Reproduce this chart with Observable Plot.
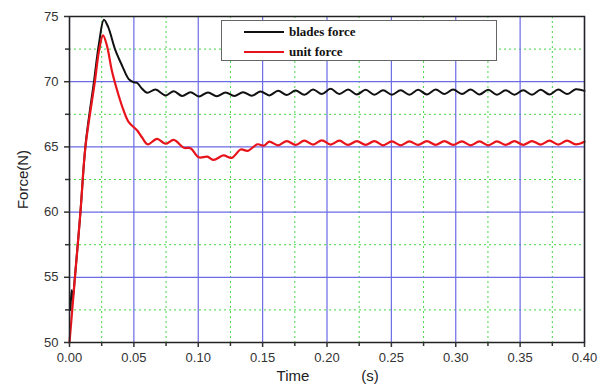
<!DOCTYPE html>
<html>
<head>
<meta charset="utf-8">
<script src="https://cdn.jsdelivr.net/npm/d3@7"></script>
<script src="https://cdn.jsdelivr.net/npm/@observablehq/plot@0.6"></script>
<style>
  html, body { margin: 0; padding: 0; background: #fff; }
  #wrap { position: relative; width: 602px; height: 387px; font-family: "Liberation Sans", Arial, sans-serif; }
  #legend { position: absolute; left: 221px; top: 20px; width: 274px; height: 39px; border: 1.5px solid #666; background: #fff; box-sizing: content-box; }
  .li { position: absolute; left: 22px; width: 40px; height: 2px; }
  .lt { position: absolute; left: 67px; font: bold 13px "Liberation Serif", "Times New Roman", serif; color: #111; line-height: 13px; }
</style>
</head>
<body>
<div id="wrap">
  <div id="chart"></div>
  <div id="legend">
    <div class="li" style="top:10px;background:#111"></div>
    <div class="lt" style="top:4px">blades force</div>
    <div class="li" style="top:30px;background:#e8141c"></div>
    <div class="lt" style="top:24px">unit force</div>
  </div>
</div>
<script>
// ---- data ----
const bladesT = [0.0008, 0.0016, 0.0024, 0.004, 0.0085, 0.0125, 0.019, 0.023, 0.0267, 0.030, 0.0357, 0.041, 0.046, 0.050, 0.0526, 0.056, 0.0603, 0.0668, 0.0746, 0.081, 0.0875, 0.094, 0.1005,
  0.1076, 0.1144, 0.1212, 0.128, 0.1348, 0.1416, 0.1484, 0.1552, 0.162, 0.1688, 0.1756, 0.1824, 0.1892, 0.196, 0.2028, 0.2096, 0.2164, 0.2232, 0.23, 0.2368, 0.2436, 0.2504, 0.2572, 0.264, 0.2708, 0.2776, 0.2844, 0.2912, 0.298, 0.3048, 0.3116, 0.3184, 0.3252, 0.332, 0.3388, 0.3456, 0.3524, 0.3592, 0.366, 0.3728, 0.3796, 0.3864, 0.3932, 0.40];
const bladesV = [52.5, 54.0, 53.3, 54.8, 60.0, 65.2, 70.0, 73.0, 74.75, 74.2, 72.4, 71.2, 70.2, 69.95, 69.9, 69.5, 69.15, 69.4, 68.95, 69.27, 68.9, 69.2, 68.87,
  69.18, 68.88, 69.18, 68.9, 69.2, 68.92, 69.25, 68.95, 69.3, 68.98, 69.32, 69.0, 69.4, 69.05, 69.45, 69.05, 69.4, 69.02, 69.38, 69.0, 69.35, 69.0, 69.35, 69.0, 69.38, 69.02, 69.4, 69.05, 69.4, 69.05, 69.4, 69.02, 69.38, 69.0, 69.35, 69.0, 69.35, 69.0, 69.38, 69.02, 69.4, 69.05, 69.42, 69.3];

const unitT = [0, 0.004, 0.0085, 0.0124, 0.0197, 0.023, 0.026, 0.029, 0.033, 0.038, 0.042, 0.046, 0.0526, 0.0565, 0.0608, 0.068, 0.0746, 0.081, 0.0888, 0.094, 0.1004, 0.107, 0.112, 0.1195, 0.126, 0.133, 0.1385, 0.146, 0.151,
  0.1552, 0.162, 0.1688, 0.1756, 0.1824, 0.1892, 0.196, 0.2028, 0.2096, 0.2164, 0.2232, 0.23, 0.2368, 0.2436, 0.2504, 0.2572, 0.264, 0.2708, 0.2776, 0.2844, 0.2912, 0.298, 0.3048, 0.3116, 0.3184, 0.3252, 0.332, 0.3388, 0.3456, 0.3524, 0.3592, 0.366, 0.3728, 0.3796, 0.3864, 0.3932, 0.40];
const unitV = [50.0, 54.7, 60.0, 65.0, 70.0, 72.4, 73.55, 72.8, 70.8, 69.0, 67.8, 66.9, 66.26, 65.7, 65.2, 65.62, 65.24, 65.54, 64.93, 64.9, 64.2, 64.25, 64.0, 64.35, 64.16, 64.8, 64.7, 65.2, 65.1,
  65.4, 65.12, 65.45, 65.15, 65.48, 65.18, 65.5, 65.18, 65.48, 65.15, 65.45, 65.15, 65.45, 65.12, 65.42, 65.12, 65.42, 65.15, 65.45, 65.15, 65.45, 65.15, 65.42, 65.12, 65.42, 65.12, 65.42, 65.15, 65.45, 65.15, 65.45, 65.18, 65.48, 65.18, 65.48, 65.2, 65.4];

const xMajor = [0, 0.05, 0.10, 0.15, 0.20, 0.25, 0.30, 0.35, 0.40];
const xMinor = [0.025, 0.075, 0.125, 0.175, 0.225, 0.275, 0.325, 0.375];
const yMajor = [50, 55, 60, 65, 70, 75];
const yMinor = [52.5, 57.5, 62.5, 67.5, 72.5];
const xLabel = "Time";
const xUnit = "(s)";
const yLabel = "Force(N)";

const blades = bladesT.map((t, i) => ({t, v: bladesV[i]}));
const unit = unitT.map((t, i) => ({t, v: unitV[i]}));

const chart = Plot.plot({
  width: 602,
  height: 387,
  marginLeft: 69,
  marginRight: 18,
  marginTop: 16,
  marginBottom: 45,
  style: {fontFamily: "'Liberation Sans', Arial, sans-serif", background: "#fff"},
  x: {domain: [0, 0.4]},
  y: {domain: [50, 75]},
  marks: [
    Plot.ruleX(xMinor, {stroke: "#44d844", strokeWidth: 1, strokeDasharray: "2,3"}),
    Plot.ruleY(yMinor, {stroke: "#44d844", strokeWidth: 1, strokeDasharray: "2,3"}),
    Plot.ruleX(xMajor, {stroke: "#6b6be6", strokeWidth: 1.2}),
    Plot.ruleY(yMajor, {stroke: "#6b6be6", strokeWidth: 1.2}),
    Plot.line(blades, {x: "t", y: "v", curve: "catmull-rom", stroke: "#111", strokeWidth: 2}),
    Plot.line(unit, {x: "t", y: "v", curve: "catmull-rom", stroke: "#e8141c", strokeWidth: 2.2}),
    Plot.frame({stroke: "#222", strokeWidth: 1.5}),
    Plot.axisX(xMajor, {tickFormat: d => d.toFixed(2), tickSize: 5, tickPadding: 5, fontSize: 13, color: "#333", strokeWidth: 1.5, label: null}),
    Plot.axisX(xMinor, {tickFormat: () => "", tickSize: 4, color: "#333", strokeWidth: 1.5, label: null}),
    Plot.axisY(yMajor, {tickFormat: d => String(d), tickSize: 5, tickPadding: 6, fontSize: 13, color: "#333", strokeWidth: 1.5, label: null}),
    Plot.axisY(yMinor, {tickFormat: () => "", tickSize: 4, color: "#333", strokeWidth: 1.5, label: null}),
    Plot.text([xLabel], {frameAnchor: "bottom", dx: -34, dy: 38, fontSize: 15, fill: "#222"}),
    Plot.text([xUnit], {frameAnchor: "bottom", dx: 43, dy: 38, fontSize: 15, fill: "#222"}),
    Plot.text([yLabel], {frameAnchor: "middle", dx: -304, dy: 0, rotate: -90, fontSize: 15, fill: "#222"})
  ]
});
document.getElementById("chart").appendChild(chart);
</script>
</body>
</html>
